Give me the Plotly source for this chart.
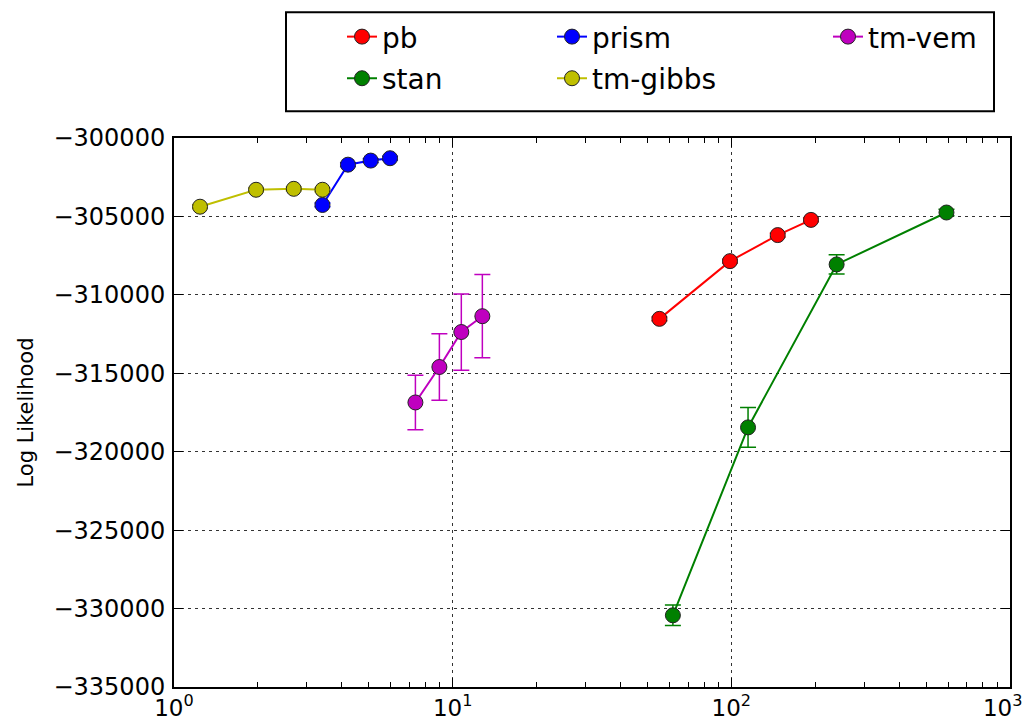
import plotly.graph_objects as go

# ---- data ----
pb_x = [55.2, 98.9, 146.7, 193.1]
pb_y = [-311530, -307850, -306190, -305220]
pb_err = [120, 120, 120, 120]

stan_x = [61.7, 114.8, 238.7, 591.6]
stan_y = [-330430, -318450, -308060, -304750]
stan_err = [650, 1270, 610, 200]

prism_x = [3.41, 4.21, 5.08, 5.96]
prism_y = [-304270, -301700, -301440, -301290]
prism_err = [120, 120, 120, 120]

gibbs_x = [1.24, 1.97, 2.69, 3.41]
gibbs_y = [-304380, -303300, -303240, -303300]
gibbs_err = [120, 120, 120, 120]

vem_x = [7.35, 8.96, 10.74, 12.78]
vem_y = [-316860, -314600, -312370, -311360]
vem_err = [1740, 2120, 2430, 2650]

y_ticks = [-300000, -305000, -310000, -315000, -320000, -325000, -330000, -335000]
x_ticks = [1, 10, 100, 1000]
x_ticktext = ["10<sup>0</sup>", "10<sup>1</sup>", "10<sup>2</sup>",
              "10<sup>3</sup>\u00a0\u00a0"]

FONT = "DejaVu Sans"

series = [
    ("pb", pb_x, pb_y, pb_err, "#ff0000", "legend"),
    ("stan", stan_x, stan_y, stan_err, "#008000", "legend2"),
    ("prism", prism_x, prism_y, prism_err, "#0000ff", "legend3"),
    ("tm-gibbs", gibbs_x, gibbs_y, gibbs_err, "#bfbf00", "legend4"),
    ("tm-vem", vem_x, vem_y, vem_err, "#bf00bf", "legend5"),
]

fig = go.Figure()
for name, xs, ys, es, col, leg in series:
    fig.add_trace(go.Scatter(
        x=xs, y=ys, name=name, mode="lines+markers",
        line=dict(color=col, width=2),
        marker=dict(color=col, size=15, line=dict(color="#222222", width=1)),
        error_y=dict(type="data", array=es, visible=True, color=col,
                     thickness=1.5, width=8),
        legend=leg,
    ))

# minor tick positions on log axis
minor_vals = [m * d for d in (1, 10, 100) for m in range(2, 10)]

L, R, T, B = 174, 19, 133, 35
W, H = 1029, 722
pw = W - L - R
ph = H - T - B


def px_to_xp(px):
    return (px - L) / pw


def py_to_yp(py):
    return (H - B - py) / ph


leg_common = dict(font=dict(family=FONT, size=28, color="black"),
                  bgcolor="rgba(0,0,0,0)", borderwidth=0,
                  xanchor="left", yanchor="middle")
row1, row2 = py_to_yp(31), py_to_yp(73)
fig.update_layout(
    legend=dict(x=px_to_xp(342), y=row1, **leg_common),
    legend2=dict(x=px_to_xp(342), y=row2, **leg_common),
    legend3=dict(x=px_to_xp(552), y=row1, **leg_common),
    legend4=dict(x=px_to_xp(552), y=row2, **leg_common),
    legend5=dict(x=px_to_xp(828), y=row1, **leg_common),
)

fig.add_shape(type="rect", xref="paper", yref="paper",
              x0=px_to_xp(286), x1=px_to_xp(994),
              y0=py_to_yp(106), y1=py_to_yp(6),
              line=dict(color="black", width=2), fillcolor="rgba(0,0,0,0)")

grid = dict(showgrid=True, gridcolor="#333333", gridwidth=1, griddash="3px,4px")

fig.update_layout(
    template="none",
    width=W, height=H,
    margin=dict(l=L, r=R, t=T, b=B),
    paper_bgcolor="white", plot_bgcolor="white",
    font=dict(family=FONT, color="black"),
    showlegend=True,
    xaxis=dict(
        type="log", range=[0, 3],
        tickvals=x_ticks, ticktext=x_ticktext,
        tickfont=dict(family=FONT, size=23, color="black"),
        ticklabeloverflow="allow",
        ticks="inside", ticklen=9, tickwidth=1, tickcolor="black",
        ticklabelstandoff=-1,
        showline=True, linecolor="black", linewidth=2, mirror="ticks",
        zeroline=False,
        minor=dict(tickvals=minor_vals, ticks="inside", ticklen=5,
                   tickwidth=1, tickcolor="black", showgrid=False),
        **grid,
    ),
    yaxis=dict(
        range=[-335000, -300000],
        tickvals=y_ticks,
        ticktext=[("\u2212" + str(abs(v))) for v in y_ticks],
        tickfont=dict(family=FONT, size=24, color="black"),
        ticks="inside", ticklen=9, tickwidth=1, tickcolor="black",
        ticklabelstandoff=2,
        showline=True, linecolor="black", linewidth=2, mirror="ticks",
        zeroline=False,
        title=dict(text="Log Likelihood", font=dict(family=FONT, size=21, color="black"),
                   standoff=14),
        **grid,
    ),
)

fig.write_html(
    "out.html",
    config={"displayModeBar": False},
    post_script="document.body.style.margin='0';document.body.style.overflow='hidden';",
)
